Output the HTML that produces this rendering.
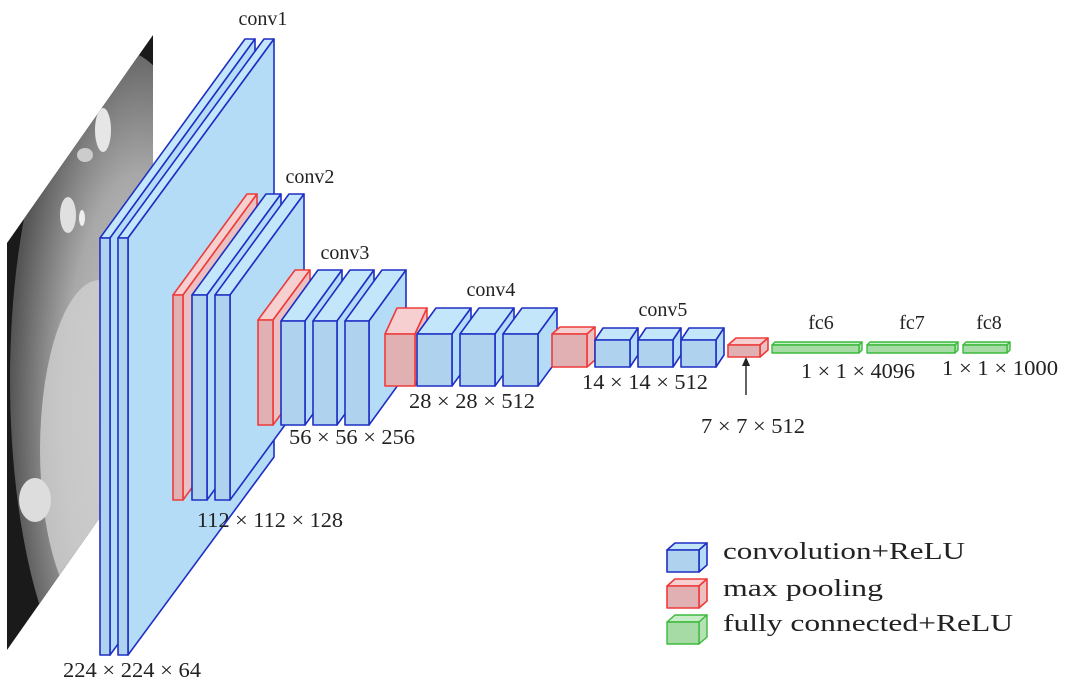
<!DOCTYPE html>
<html><head><meta charset="utf-8"><style>
html,body{margin:0;padding:0;background:#fff;}
svg{display:block;}
text{font-family:"Liberation Serif",serif;fill:#222;}
.b polygon,.b rect{stroke:#1f2fc4;stroke-width:1.6;stroke-linejoin:round}
.b .f{fill:#afd3ef}.b .t{fill:#c4e6fb}.b .s{fill:#b5dcf6}
.r polygon,.r rect{stroke:#ee3b3b;stroke-width:1.6;stroke-linejoin:round}
.r .f{fill:#e0b0b2}.r .t{fill:#f6d0d0}.r .s{fill:#ecc0c0}
.g polygon,.g rect{stroke:#3cba3c;stroke-width:1.4;stroke-linejoin:round}
.g .f{fill:#a6dba6}.g .t{fill:#c8eec8}.g .s{fill:#b4e2b4}
</style></head><body>
<svg width="1080" height="697" viewBox="0 0 1080 697" xmlns="http://www.w3.org/2000/svg">
<defs>
<clipPath id="pc"><polygon points="7,243 153,35 153,442 7,650"/></clipPath>
<radialGradient id="rg" cx="0.6" cy="0.55" r="0.6"><stop offset="0" stop-color="#d6d6d6"/><stop offset="0.6" stop-color="#a8a8a8"/><stop offset="1" stop-color="#555"/></radialGradient>
</defs>
<g clip-path="url(#pc)">
<rect x="0" y="30" width="160" height="630" fill="#1a1a1a"/>
<ellipse cx="120" cy="380" rx="110" ry="330" fill="url(#rg)"/>
<ellipse cx="100" cy="450" rx="60" ry="170" fill="#d0d0d0" opacity="0.8"/>
<ellipse cx="103" cy="130" rx="8" ry="22" fill="#e6e6e6"/>
<ellipse cx="68" cy="215" rx="8" ry="18" fill="#e0e0e0"/>
<ellipse cx="82" cy="218" rx="3" ry="8" fill="#eee"/>
<ellipse cx="85" cy="155" rx="8" ry="7" fill="#ccc"/>
<ellipse cx="35" cy="500" rx="16" ry="22" fill="#ddd"/>
</g>

<g class="b">
<polygon class="t" points="100,238 245,39 255,39 110,238"/><polygon class="s" points="110,238 255,39 255,457 110,655"/><rect class="f" x="100" y="238" width="10" height="417"/>
<polygon class="t" points="118,238 264,39 274,39 128,238"/><polygon class="s" points="128,238 274,39 274,457 128,655"/><rect class="f" x="118" y="238" width="10" height="417"/>
</g>
<g class="r"><polygon class="t" points="173,295 247,194 257,194 183,295"/><polygon class="s" points="183,295 257,194 257,399 183,500"/><rect class="f" x="173" y="295" width="10" height="205"/></g>
<g class="b">
<polygon class="t" points="192,295 266,194 281,194 207,295"/><polygon class="s" points="207,295 281,194 281,399 207,500"/><rect class="f" x="192" y="295" width="15" height="205"/>
<polygon class="t" points="215,295 289,194 304,194 230,295"/><polygon class="s" points="230,295 304,194 304,399 230,500"/><rect class="f" x="215" y="295" width="15" height="205"/>
</g>
<g class="r"><polygon class="t" points="258,320 295,270 310,270 273,320"/><polygon class="s" points="273,320 310,270 310,375 273,425"/><rect class="f" x="258" y="320" width="15" height="105"/></g>
<g class="b">
<polygon class="t" points="281,321 318,270 342,270 305,321"/><polygon class="s" points="305,321 342,270 342,374 305,425"/><rect class="f" x="281" y="321" width="24" height="104"/>
<polygon class="t" points="313,321 350,270 374,270 337,321"/><polygon class="s" points="337,321 374,270 374,374 337,425"/><rect class="f" x="313" y="321" width="24" height="104"/>
<polygon class="t" points="345,321 382,270 406,270 369,321"/><polygon class="s" points="369,321 406,270 406,374 369,425"/><rect class="f" x="345" y="321" width="24" height="104"/>
</g>
<g class="r"><polygon class="t" points="385,334 397,308 427,308 415,334"/><polygon class="s" points="415,334 427,308 427,360 415,386"/><rect class="f" x="385" y="334" width="30" height="52"/></g>
<g class="b">
<polygon class="t" points="417,334 436,308 471,308 452,334"/><polygon class="s" points="452,334 471,308 471,360 452,386"/><rect class="f" x="417" y="334" width="35" height="52"/>
<polygon class="t" points="460,334 479,308 514,308 495,334"/><polygon class="s" points="495,334 514,308 514,360 495,386"/><rect class="f" x="460" y="334" width="35" height="52"/>
<polygon class="t" points="503,334 522,308 557,308 538,334"/><polygon class="s" points="538,334 557,308 557,360 538,386"/><rect class="f" x="503" y="334" width="35" height="52"/>
</g>
<g class="r"><polygon class="t" points="552,334 560,327 595,327 587,334"/><polygon class="s" points="587,334 595,327 595,360 587,367"/><rect class="f" x="552" y="334" width="35" height="33"/></g>
<g class="b">
<polygon class="t" points="595,340 603,328 638,328 630,340"/><polygon class="s" points="630,340 638,328 638,355 630,367"/><rect class="f" x="595" y="340" width="35" height="27"/>
<polygon class="t" points="638,340 646,328 681,328 673,340"/><polygon class="s" points="673,340 681,328 681,355 673,367"/><rect class="f" x="638" y="340" width="35" height="27"/>
<polygon class="t" points="681,340 689,328 724,328 716,340"/><polygon class="s" points="716,340 724,328 724,355 716,367"/><rect class="f" x="681" y="340" width="35" height="27"/>
</g>
<g class="r"><polygon class="t" points="728,345 736,338 768,338 760,345"/><polygon class="s" points="760,345 768,338 768,350 760,357"/><rect class="f" x="728" y="345" width="32" height="12"/></g>
<g class="g">
<polygon class="t" points="772,345 775,342 862,342 859,345"/><polygon class="s" points="859,345 862,342 862,350 859,353"/><rect class="f" x="772" y="345" width="87" height="8"/>
<polygon class="t" points="867,345 870,342 958,342 955,345"/><polygon class="s" points="955,345 958,342 958,350 955,353"/><rect class="f" x="867" y="345" width="88" height="8"/>
<polygon class="t" points="963,345 966,342 1010,342 1007,345"/><polygon class="s" points="1007,345 1010,342 1010,350 1007,353"/><rect class="f" x="963" y="345" width="44" height="8"/>
</g>
<line x1="746" y1="395" x2="746" y2="362" stroke="#222" stroke-width="1.4"/>
<polygon points="746,357 742,366 750,366" fill="#222"/>

<g font-size="20" text-anchor="middle">
<text x="263" y="25">conv1</text>
<text x="310" y="183">conv2</text>
<text x="345" y="259">conv3</text>
<text x="491" y="296">conv4</text>
<text x="663" y="316">conv5</text>
<text x="821" y="329">fc6</text>
<text x="912" y="329">fc7</text>
<text x="989" y="329">fc8</text>
</g>
<g font-size="21" text-anchor="middle">
<text x="132" y="677" textLength="138" lengthAdjust="spacingAndGlyphs">224 × 224 × 64</text>
<text x="270" y="527" textLength="146" lengthAdjust="spacingAndGlyphs">112 × 112 × 128</text>
<text x="352" y="444" textLength="126" lengthAdjust="spacingAndGlyphs">56 × 56 × 256</text>
<text x="472" y="408" textLength="126" lengthAdjust="spacingAndGlyphs">28 × 28 × 512</text>
<text x="645" y="389" textLength="126" lengthAdjust="spacingAndGlyphs">14 × 14 × 512</text>
<text x="753" y="433" textLength="104" lengthAdjust="spacingAndGlyphs">7 × 7 × 512</text>
<text x="858" y="378" textLength="114" lengthAdjust="spacingAndGlyphs">1 × 1 × 4096</text>
<text x="1000" y="375" textLength="116" lengthAdjust="spacingAndGlyphs">1 × 1 × 1000</text>
</g>

<g class="b"><polygon class="t" points="667,550 675,543 707,543 699,550"/><polygon class="s" points="699,550 707,543 707,565 699,572"/><rect class="f" x="667" y="550" width="32" height="22"/></g>
<g class="r"><polygon class="t" points="667,586 675,579 707,579 699,586"/><polygon class="s" points="699,586 707,579 707,601 699,608"/><rect class="f" x="667" y="586" width="32" height="22"/></g>
<g class="g"><polygon class="t" points="667,622 675,615 707,615 699,622"/><polygon class="s" points="699,622 707,615 707,637 699,644"/><rect class="f" x="667" y="622" width="32" height="22"/></g>
<g font-size="24">
<text x="723" y="559" textLength="242" lengthAdjust="spacingAndGlyphs">convolution+ReLU</text>
<text x="723" y="596" textLength="160" lengthAdjust="spacingAndGlyphs">max pooling</text>
<text x="723" y="631" textLength="290" lengthAdjust="spacingAndGlyphs">fully connected+ReLU</text>
</g>
</svg>
</body></html>
